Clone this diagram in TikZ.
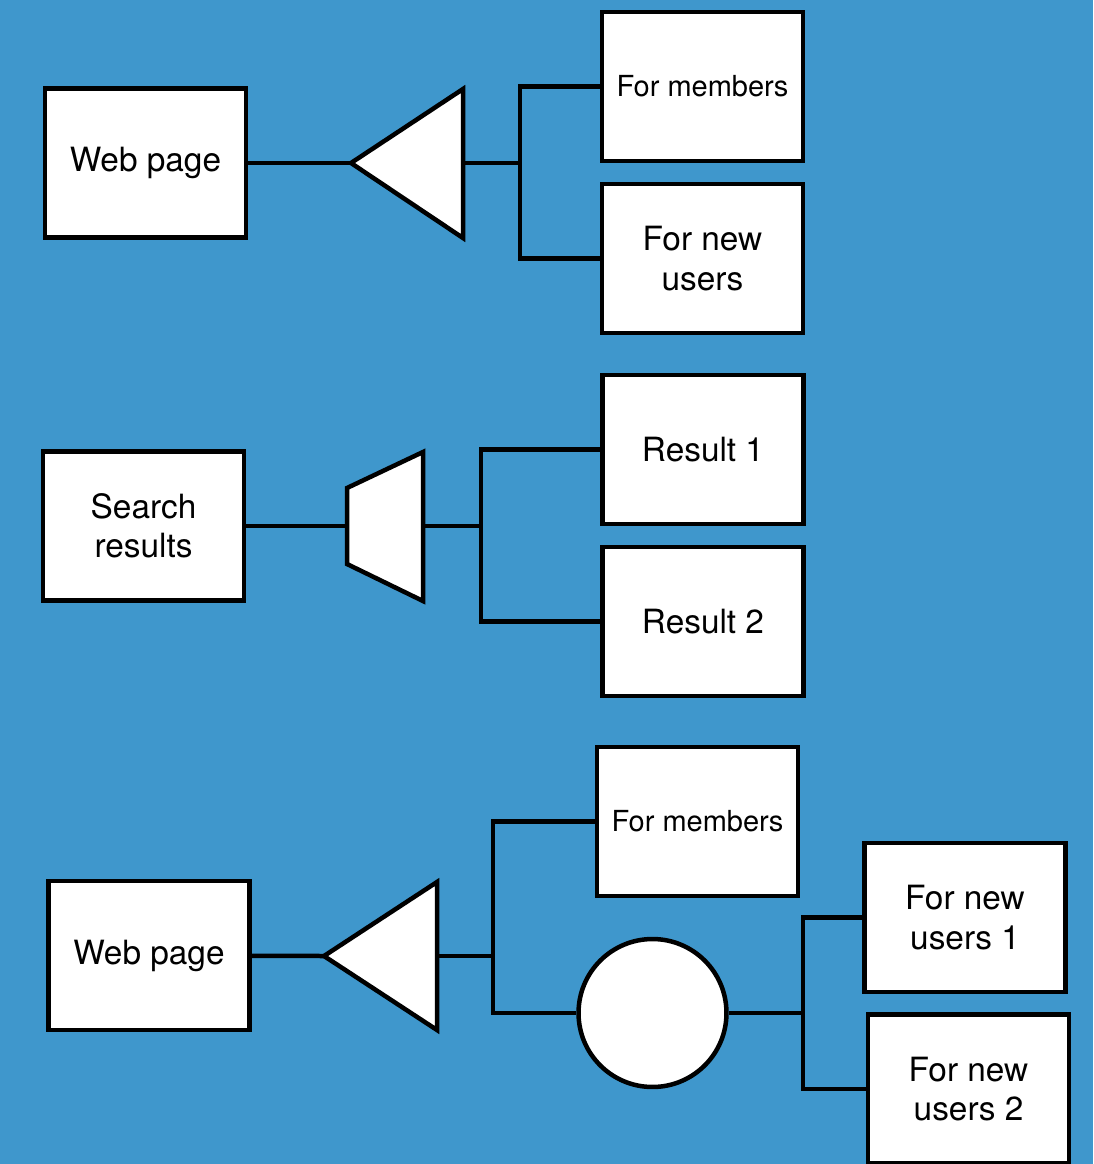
\documentclass[tikz,border=0pt]{standalone}
\usepackage{fontspec}
\setmainfont{TeX Gyre Heros}
\usetikzlibrary{positioning}
\definecolor{bgblue}{RGB}{63,151,204}
\tikzset{
  blk/.style={draw=black, fill=white, line width=0.09cm, minimum width=4.02cm,
    minimum height=2.98cm, align=center, inner sep=0pt,
    font=\fontsize{19}{22.5}\selectfont},
  blksmall/.style={blk, font=\fontsize{16.5}{19}\selectfont},
  wire/.style={draw=black, line width=0.09cm},
}
\begin{document}
\begin{tikzpicture}[x=0.02cm,y=-0.02cm]
    \fill[bgblue] (0,0) rectangle (1093,1164);
    \useasboundingbox (0,0) rectangle (1093,1164);

    % top group
    \node[blk] (web1) at (145.5,163) {Web page};
    \node[blksmall] (mem1) at (702.5,86.5) {For members};
    \node[blk] (new1) at (702.5,258.5) {For new\\users};
    \coordinate (tip1) at (351,163);
    \coordinate (back1) at (463,163);
    \coordinate (fork1) at (520,163);
    \filldraw[wire, fill=white] (tip1) -- (463,89) -- (463,238) -- cycle;
    \draw[wire] (web1) -- (tip1);
    \draw[wire] (back1) -- (fork1);
    \draw[wire] (mem1.west) -| (fork1) |- (new1.west);

    % middle group
    \node[blk] (search) at (143.5,526) {Search\\results};
    \node[blk] (res1) at (703,449.5) {Result 1};
    \node[blk] (res2) at (703,621.5) {Result 2};
    \coordinate (narrow) at (347,526);
    \coordinate (wide) at (423,526);
    \coordinate (fork2) at (481,526);
    \filldraw[wire, fill=white] (347,488) -- (423,452) -- (423,601) -- (347,564) -- cycle;
    \draw[wire] (search) -- (narrow);
    \draw[wire] (wide) -- (fork2);
    \draw[wire] (res1.west) -| (fork2) |- (res2.west);

    % bottom group
    \node[blk] (web2) at (149,955.5) {Web page};
    \node[blksmall] (mem2) at (697.5,821.5) {For members};
    \node[circle, draw=black, fill=white, line width=0.09cm, minimum size=2.96cm] (hub) at (652.5,1013) {};
    \node[blk] (new21) at (965,917.5) {For new\\users 1};
    \node[blk] (new22) at (968.5,1089) {For new\\users 2};
    \coordinate (tip2) at (324,956);
    \coordinate (back2) at (437,956);
    \coordinate (fork3) at (493,956);
    \coordinate (fork4) at (803,1013);
    \filldraw[wire, fill=white] (tip2) -- (437,882) -- (437,1030) -- cycle;
    \draw[wire] (web2) -- (tip2);
    \draw[wire] (back2) -- (fork3);
    \draw[wire] (mem2.west) -| (fork3) |- (hub.west);
    \draw[wire] (hub) -- (fork4);
    \draw[wire] (new21.west) -| (fork4) |- (new22.west);
\end{tikzpicture}
\end{document}
